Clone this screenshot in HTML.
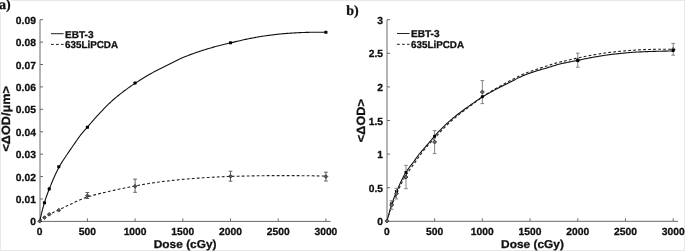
<!DOCTYPE html>
<html><head><meta charset="utf-8"><title>Dose response</title>
<style>
html,body{margin:0;padding:0;background:#fff;}
svg{display:block;}
text{stroke:#111;stroke-width:0.3px;text-rendering:geometricPrecision;}
.tk{font-family:'Liberation Sans', Arial, Helvetica, sans-serif;font-weight:bold;font-size:10.3px;fill:#111;}
.lab{font-family:'Liberation Sans', Arial, Helvetica, sans-serif;font-weight:bold;font-size:12px;fill:#111;}
.lg{font-family:'Liberation Sans', Arial, Helvetica, sans-serif;font-weight:bold;font-size:10.0px;fill:#111;}
.pl{font-family:'Liberation Serif', 'Times New Roman', serif;font-weight:bold;font-size:14px;fill:#111;}
</style></head><body>
<svg width="685" height="251" viewBox="0 0 685 251">
<rect x="0" y="0" width="685" height="251" fill="#fff"/>
<rect x="0.5" y="0.5" width="684" height="250" fill="none" stroke="#e8e8e8" stroke-width="1"/>

<rect x="0" y="0" width="11" height="12" fill="#fff"/>
<text x="-1.0" y="9.4" class="pl">a)</text>
<text x="346.2" y="14.9" class="pl">b)</text>
<path d="M40.00,19.70 L40.00,221.40 L330.60,221.40" fill="none" stroke="#6a6a6a" stroke-width="1"/>
<text x="35.90" y="225.45" text-anchor="end" class="tk">0</text>
<line x1="40.00" y1="198.99" x2="43.00" y2="198.99" stroke="#6a6a6a" stroke-width="1"/>
<text x="35.90" y="203.04" text-anchor="end" class="tk">0.01</text>
<line x1="40.00" y1="176.58" x2="43.00" y2="176.58" stroke="#6a6a6a" stroke-width="1"/>
<text x="35.90" y="180.63" text-anchor="end" class="tk">0.02</text>
<line x1="40.00" y1="154.17" x2="43.00" y2="154.17" stroke="#6a6a6a" stroke-width="1"/>
<text x="35.90" y="158.22" text-anchor="end" class="tk">0.03</text>
<line x1="40.00" y1="131.76" x2="43.00" y2="131.76" stroke="#6a6a6a" stroke-width="1"/>
<text x="35.90" y="135.81" text-anchor="end" class="tk">0.04</text>
<line x1="40.00" y1="109.34" x2="43.00" y2="109.34" stroke="#6a6a6a" stroke-width="1"/>
<text x="35.90" y="113.39" text-anchor="end" class="tk">0.05</text>
<line x1="40.00" y1="86.93" x2="43.00" y2="86.93" stroke="#6a6a6a" stroke-width="1"/>
<text x="35.90" y="90.98" text-anchor="end" class="tk">0.06</text>
<line x1="40.00" y1="64.52" x2="43.00" y2="64.52" stroke="#6a6a6a" stroke-width="1"/>
<text x="35.90" y="68.57" text-anchor="end" class="tk">0.07</text>
<line x1="40.00" y1="42.11" x2="43.00" y2="42.11" stroke="#6a6a6a" stroke-width="1"/>
<text x="35.90" y="46.16" text-anchor="end" class="tk">0.08</text>
<line x1="40.00" y1="19.70" x2="43.00" y2="19.70" stroke="#6a6a6a" stroke-width="1"/>
<text x="35.90" y="23.75" text-anchor="end" class="tk">0.09</text>
<text x="39.70" y="234.50" text-anchor="middle" class="tk">0</text>
<line x1="87.40" y1="221.40" x2="87.40" y2="218.40" stroke="#6a6a6a" stroke-width="1"/>
<text x="87.40" y="234.50" text-anchor="middle" class="tk">500</text>
<line x1="135.10" y1="221.40" x2="135.10" y2="218.40" stroke="#6a6a6a" stroke-width="1"/>
<text x="135.10" y="234.50" text-anchor="middle" class="tk">1000</text>
<line x1="182.80" y1="221.40" x2="182.80" y2="218.40" stroke="#6a6a6a" stroke-width="1"/>
<text x="182.80" y="234.50" text-anchor="middle" class="tk">1500</text>
<line x1="230.50" y1="221.40" x2="230.50" y2="218.40" stroke="#6a6a6a" stroke-width="1"/>
<text x="230.50" y="234.50" text-anchor="middle" class="tk">2000</text>
<line x1="278.20" y1="221.40" x2="278.20" y2="218.40" stroke="#6a6a6a" stroke-width="1"/>
<text x="278.20" y="234.50" text-anchor="middle" class="tk">2500</text>
<line x1="325.90" y1="221.40" x2="325.90" y2="218.40" stroke="#6a6a6a" stroke-width="1"/>
<text x="325.90" y="234.50" text-anchor="middle" class="tk">3000</text>
<text x="185.15" y="247.6" text-anchor="middle" class="lab" style="font-size:11.4px" textLength="62.8" lengthAdjust="spacingAndGlyphs">Dose (cGy)</text>
<text transform="translate(10.00,118.80) rotate(-90)" x="0" y="0" text-anchor="middle" class="lab" textLength="65.5" lengthAdjust="spacingAndGlyphs">&lt;&#916;OD/&#956;m&gt;</text>
<line x1="51.00" y1="33.70" x2="63.60" y2="33.70" stroke="#222" stroke-width="1"/>
<line x1="51.00" y1="44.40" x2="63.60" y2="44.40" stroke="#222" stroke-width="1" stroke-dasharray="2.8 2.2"/>
<text x="65.00" y="37.60" class="lg" textLength="28.6" lengthAdjust="spacingAndGlyphs">EBT-3</text>
<text x="65.00" y="47.85" class="lg" textLength="53.0" lengthAdjust="spacingAndGlyphs">635LiPCDA</text>
<path d="M39.70,221.40 L40.70,216.99 L41.70,212.81 L42.70,208.86 L43.70,205.19 L44.70,201.82 L45.70,198.70 L46.70,195.80 L47.70,193.05 L48.70,190.43 L49.70,187.89 L50.70,185.39 L51.70,182.95 L52.70,180.56 L53.70,178.23 L54.70,175.97 L55.70,173.79 L56.70,171.69 L57.70,169.67 L58.70,167.76 L59.70,165.94 L60.70,164.23 L61.70,162.60 L62.70,161.03 L63.70,159.52 L64.70,158.03 L65.70,156.55 L66.70,155.05 L67.70,153.55 L68.70,152.07 L69.70,150.61 L70.70,149.16 L71.70,147.71 L72.70,146.26 L73.70,144.81 L74.70,143.36 L75.70,141.93 L76.70,140.49 L77.70,139.05 L78.70,137.61 L79.70,136.23 L80.70,134.92 L81.70,133.67 L82.70,132.47 L83.70,131.31 L84.70,130.16 L85.70,129.03 L86.70,127.89 L87.70,126.74 L88.70,125.58 L89.70,124.42 L90.70,123.26 L91.70,122.11 L92.70,120.96 L93.70,119.82 L94.70,118.69 L95.70,117.58 L96.70,116.47 L97.70,115.38 L98.70,114.30 L99.70,113.22 L100.70,112.14 L101.70,111.07 L102.70,110.01 L103.70,108.96 L104.70,107.92 L105.70,106.89 L106.70,105.89 L107.70,104.90 L108.70,103.93 L109.70,102.99 L110.70,102.06 L111.70,101.16 L112.70,100.27 L113.70,99.39 L114.70,98.53 L115.70,97.68 L116.70,96.85 L117.70,96.02 L118.70,95.21 L119.70,94.41 L120.70,93.62 L121.70,92.84 L122.70,92.07 L123.70,91.31 L124.70,90.56 L125.70,89.82 L126.70,89.09 L127.70,88.37 L128.70,87.66 L129.70,86.96 L130.70,86.27 L131.70,85.58 L132.70,84.90 L133.70,84.23 L134.70,83.56 L135.70,82.90 L136.70,82.25 L137.70,81.60 L138.70,80.95 L139.70,80.31 L140.70,79.67 L141.70,79.04 L142.70,78.42 L143.70,77.80 L144.70,77.19 L145.70,76.59 L146.70,76.00 L147.70,75.41 L148.70,74.83 L149.70,74.27 L150.70,73.71 L151.70,73.17 L152.70,72.63 L153.70,72.10 L154.70,71.59 L155.70,71.07 L156.70,70.57 L157.70,70.07 L158.70,69.57 L159.70,69.07 L160.70,68.58 L161.70,68.09 L162.70,67.60 L163.70,67.10 L164.70,66.60 L165.70,66.10 L166.70,65.59 L167.70,65.08 L168.70,64.56 L169.70,64.04 L170.70,63.52 L171.70,63.00 L172.70,62.47 L173.70,61.95 L174.70,61.44 L175.70,60.93 L176.70,60.43 L177.70,59.94 L178.70,59.45 L179.70,58.98 L180.70,58.53 L181.70,58.09 L182.70,57.66 L183.70,57.24 L184.70,56.83 L185.70,56.42 L186.70,56.03 L187.70,55.64 L188.70,55.25 L189.70,54.88 L190.70,54.50 L191.70,54.14 L192.70,53.78 L193.70,53.42 L194.70,53.07 L195.70,52.72 L196.70,52.38 L197.70,52.03 L198.70,51.70 L199.70,51.36 L200.70,51.03 L201.70,50.71 L202.70,50.38 L203.70,50.07 L204.70,49.75 L205.70,49.44 L206.70,49.13 L207.70,48.83 L208.70,48.53 L209.70,48.24 L210.70,47.95 L211.70,47.66 L212.70,47.38 L213.70,47.10 L214.70,46.83 L215.70,46.56 L216.70,46.29 L217.70,46.03 L218.70,45.78 L219.70,45.52 L220.70,45.27 L221.70,45.03 L222.70,44.78 L223.70,44.54 L224.70,44.29 L225.70,44.05 L226.70,43.81 L227.70,43.57 L228.70,43.33 L229.70,43.09 L230.70,42.85 L231.70,42.61 L232.70,42.37 L233.70,42.12 L234.70,41.88 L235.70,41.64 L236.70,41.40 L237.70,41.16 L238.70,40.92 L239.70,40.69 L240.70,40.46 L241.70,40.23 L242.70,40.01 L243.70,39.79 L244.70,39.58 L245.70,39.37 L246.70,39.16 L247.70,38.95 L248.70,38.75 L249.70,38.55 L250.70,38.35 L251.70,38.15 L252.70,37.96 L253.70,37.77 L254.70,37.59 L255.70,37.40 L256.70,37.23 L257.70,37.05 L258.70,36.88 L259.70,36.72 L260.70,36.56 L261.70,36.39 L262.70,36.24 L263.70,36.08 L264.70,35.93 L265.70,35.78 L266.70,35.63 L267.70,35.49 L268.70,35.35 L269.70,35.21 L270.70,35.08 L271.70,34.95 L272.70,34.83 L273.70,34.71 L274.70,34.60 L275.70,34.48 L276.70,34.37 L277.70,34.27 L278.70,34.16 L279.70,34.06 L280.70,33.96 L281.70,33.86 L282.70,33.77 L283.70,33.67 L284.70,33.59 L285.70,33.50 L286.70,33.42 L287.70,33.35 L288.70,33.28 L289.70,33.21 L290.70,33.14 L291.70,33.08 L292.70,33.01 L293.70,32.95 L294.70,32.89 L295.70,32.83 L296.70,32.77 L297.70,32.72 L298.70,32.67 L299.70,32.62 L300.70,32.58 L301.70,32.54 L302.70,32.51 L303.70,32.48 L304.70,32.45 L305.70,32.42 L306.70,32.39 L307.70,32.36 L308.70,32.34 L309.70,32.31 L310.70,32.29 L311.70,32.26 L312.70,32.25 L313.70,32.23 L314.70,32.22 L315.70,32.21 L316.70,32.20 L317.70,32.20 L318.70,32.20 L319.70,32.21 L320.70,32.21 L321.70,32.22 L322.70,32.24 L323.70,32.25 L324.70,32.27 L325.70,32.29 L326.00,32.30" fill="none" stroke="#111" stroke-width="1.1"/>
<path d="M39.70,221.40 L40.70,220.51 L41.70,219.65 L42.70,218.84 L43.70,218.07 L44.70,217.34 L45.70,216.65 L46.70,216.00 L47.70,215.37 L48.70,214.78 L49.70,214.23 L50.70,213.70 L51.70,213.20 L52.70,212.71 L53.70,212.24 L54.70,211.79 L55.70,211.33 L56.70,210.88 L57.70,210.42 L58.70,209.96 L59.70,209.49 L60.70,209.01 L61.70,208.53 L62.70,208.05 L63.70,207.56 L64.70,207.07 L65.70,206.58 L66.70,206.09 L67.70,205.59 L68.70,205.10 L69.70,204.61 L70.70,204.13 L71.70,203.64 L72.70,203.16 L73.70,202.68 L74.70,202.21 L75.70,201.75 L76.70,201.29 L77.70,200.84 L78.70,200.40 L79.70,199.97 L80.70,199.55 L81.70,199.14 L82.70,198.74 L83.70,198.35 L84.70,197.97 L85.70,197.61 L86.70,197.27 L87.70,196.93 L88.70,196.62 L89.70,196.31 L90.70,196.01 L91.70,195.71 L92.70,195.43 L93.70,195.15 L94.70,194.88 L95.70,194.62 L96.70,194.36 L97.70,194.10 L98.70,193.85 L99.70,193.61 L100.70,193.36 L101.70,193.12 L102.70,192.89 L103.70,192.65 L104.70,192.42 L105.70,192.18 L106.70,191.95 L107.70,191.71 L108.70,191.48 L109.70,191.25 L110.70,191.02 L111.70,190.80 L112.70,190.57 L113.70,190.35 L114.70,190.13 L115.70,189.91 L116.70,189.70 L117.70,189.48 L118.70,189.27 L119.70,189.06 L120.70,188.85 L121.70,188.64 L122.70,188.43 L123.70,188.23 L124.70,188.03 L125.70,187.82 L126.70,187.62 L127.70,187.42 L128.70,187.22 L129.70,187.03 L130.70,186.83 L131.70,186.64 L132.70,186.44 L133.70,186.25 L134.70,186.06 L135.70,185.87 L136.70,185.67 L137.70,185.48 L138.70,185.29 L139.70,185.10 L140.70,184.92 L141.70,184.73 L142.70,184.55 L143.70,184.37 L144.70,184.19 L145.70,184.01 L146.70,183.84 L147.70,183.67 L148.70,183.51 L149.70,183.35 L150.70,183.20 L151.70,183.05 L152.70,182.90 L153.70,182.76 L154.70,182.62 L155.70,182.48 L156.70,182.34 L157.70,182.20 L158.70,182.07 L159.70,181.93 L160.70,181.80 L161.70,181.67 L162.70,181.55 L163.70,181.42 L164.70,181.30 L165.70,181.18 L166.70,181.06 L167.70,180.94 L168.70,180.83 L169.70,180.72 L170.70,180.61 L171.70,180.50 L172.70,180.39 L173.70,180.28 L174.70,180.18 L175.70,180.08 L176.70,179.97 L177.70,179.87 L178.70,179.77 L179.70,179.68 L180.70,179.58 L181.70,179.49 L182.70,179.39 L183.70,179.30 L184.70,179.21 L185.70,179.12 L186.70,179.03 L187.70,178.95 L188.70,178.86 L189.70,178.78 L190.70,178.70 L191.70,178.62 L192.70,178.54 L193.70,178.46 L194.70,178.38 L195.70,178.31 L196.70,178.24 L197.70,178.16 L198.70,178.09 L199.70,178.02 L200.70,177.95 L201.70,177.88 L202.70,177.81 L203.70,177.75 L204.70,177.68 L205.70,177.62 L206.70,177.55 L207.70,177.49 L208.70,177.43 L209.70,177.37 L210.70,177.31 L211.70,177.25 L212.70,177.20 L213.70,177.14 L214.70,177.09 L215.70,177.04 L216.70,176.98 L217.70,176.93 L218.70,176.88 L219.70,176.83 L220.70,176.79 L221.70,176.74 L222.70,176.69 L223.70,176.65 L224.70,176.60 L225.70,176.56 L226.70,176.52 L227.70,176.49 L228.70,176.45 L229.70,176.42 L230.70,176.39 L231.70,176.37 L232.70,176.34 L233.70,176.32 L234.70,176.29 L235.70,176.27 L236.70,176.24 L237.70,176.22 L238.70,176.19 L239.70,176.17 L240.70,176.15 L241.70,176.12 L242.70,176.10 L243.70,176.08 L244.70,176.05 L245.70,176.03 L246.70,176.01 L247.70,175.99 L248.70,175.97 L249.70,175.95 L250.70,175.93 L251.70,175.91 L252.70,175.89 L253.70,175.87 L254.70,175.85 L255.70,175.83 L256.70,175.81 L257.70,175.80 L258.70,175.78 L259.70,175.76 L260.70,175.75 L261.70,175.73 L262.70,175.72 L263.70,175.71 L264.70,175.70 L265.70,175.68 L266.70,175.67 L267.70,175.66 L268.70,175.65 L269.70,175.64 L270.70,175.64 L271.70,175.63 L272.70,175.62 L273.70,175.62 L274.70,175.61 L275.70,175.61 L276.70,175.60 L277.70,175.60 L278.70,175.60 L279.70,175.60 L280.70,175.60 L281.70,175.60 L282.70,175.60 L283.70,175.60 L284.70,175.61 L285.70,175.61 L286.70,175.61 L287.70,175.62 L288.70,175.62 L289.70,175.62 L290.70,175.63 L291.70,175.63 L292.70,175.64 L293.70,175.64 L294.70,175.65 L295.70,175.65 L296.70,175.66 L297.70,175.67 L298.70,175.67 L299.70,175.68 L300.70,175.68 L301.70,175.69 L302.70,175.70 L303.70,175.71 L304.70,175.71 L305.70,175.72 L306.70,175.73 L307.70,175.75 L308.70,175.76 L309.70,175.77 L310.70,175.79 L311.70,175.80 L312.70,175.82 L313.70,175.84 L314.70,175.85 L315.70,175.87 L316.70,175.89 L317.70,175.91 L318.70,175.93 L319.70,175.96 L320.70,175.98 L321.70,176.00 L322.70,176.02 L323.70,176.05 L324.70,176.07 L325.70,176.09 L326.00,176.10" fill="none" stroke="#222" stroke-width="1.1" stroke-dasharray="2.8 2.2"/>
<path d="M87.40,192.50 L87.40,198.50 M85.55,192.50 L89.25,192.50 M85.55,198.50 L89.25,198.50" fill="none" stroke="#626262" stroke-width="1"/>
<path d="M135.10,179.10 L135.10,192.30 M133.25,179.10 L136.95,179.10 M133.25,192.30 L136.95,192.30" fill="none" stroke="#626262" stroke-width="1"/>
<path d="M230.50,171.20 L230.50,181.20 M228.65,171.20 L232.35,171.20 M228.65,181.20 L232.35,181.20" fill="none" stroke="#626262" stroke-width="1"/>
<path d="M325.90,172.20 L325.90,181.00 M324.05,172.20 L327.75,172.20 M324.05,181.00 L327.75,181.00" fill="none" stroke="#626262" stroke-width="1"/>
<path d="M39.70,219.30 L41.60,221.20 L39.70,223.10 L37.80,221.20 Z" fill="#555" stroke="#333" stroke-width="0.8"/>
<path d="M44.47,215.70 L46.37,217.60 L44.47,219.50 L42.57,217.60 Z" fill="#555" stroke="#333" stroke-width="0.8"/>
<path d="M49.24,212.40 L51.14,214.30 L49.24,216.20 L47.34,214.30 Z" fill="#555" stroke="#333" stroke-width="0.8"/>
<path d="M58.78,208.30 L60.68,210.20 L58.78,212.10 L56.88,210.20 Z" fill="#555" stroke="#333" stroke-width="0.8"/>
<path d="M87.40,193.90 L89.30,195.80 L87.40,197.70 L85.50,195.80 Z" fill="#555" stroke="#333" stroke-width="0.8"/>
<path d="M135.10,184.40 L137.00,186.30 L135.10,188.20 L133.20,186.30 Z" fill="#555" stroke="#333" stroke-width="0.8"/>
<path d="M230.50,174.35 L232.40,176.25 L230.50,178.15 L228.60,176.25 Z" fill="#555" stroke="#333" stroke-width="0.8"/>
<path d="M325.90,174.70 L327.80,176.60 L325.90,178.50 L324.00,176.60 Z" fill="#555" stroke="#333" stroke-width="0.8"/>
<rect x="42.92" y="201.25" width="3.1" height="3.1" rx="0.7" fill="#000"/>
<rect x="47.69" y="187.35" width="3.1" height="3.1" rx="0.7" fill="#000"/>
<rect x="57.23" y="165.15" width="3.1" height="3.1" rx="0.7" fill="#000"/>
<rect x="85.85" y="125.75" width="3.1" height="3.1" rx="0.7" fill="#000"/>
<rect x="133.55" y="81.45" width="3.1" height="3.1" rx="0.7" fill="#000"/>
<rect x="228.95" y="41.25" width="3.1" height="3.1" rx="0.7" fill="#000"/>
<rect x="324.35" y="30.75" width="3.1" height="3.1" rx="0.7" fill="#000"/>
<path d="M387.00,19.70 L387.00,221.30 L678.00,221.30" fill="none" stroke="#6a6a6a" stroke-width="1"/>
<text x="383.10" y="225.35" text-anchor="end" class="tk">0</text>
<line x1="387.00" y1="187.70" x2="390.00" y2="187.70" stroke="#6a6a6a" stroke-width="1"/>
<text x="383.10" y="191.75" text-anchor="end" class="tk">0.5</text>
<line x1="387.00" y1="154.10" x2="390.00" y2="154.10" stroke="#6a6a6a" stroke-width="1"/>
<text x="383.10" y="158.15" text-anchor="end" class="tk">1</text>
<line x1="387.00" y1="120.50" x2="390.00" y2="120.50" stroke="#6a6a6a" stroke-width="1"/>
<text x="383.10" y="124.55" text-anchor="end" class="tk">1.5</text>
<line x1="387.00" y1="86.90" x2="390.00" y2="86.90" stroke="#6a6a6a" stroke-width="1"/>
<text x="383.10" y="90.95" text-anchor="end" class="tk">2</text>
<line x1="387.00" y1="53.30" x2="390.00" y2="53.30" stroke="#6a6a6a" stroke-width="1"/>
<text x="383.10" y="57.35" text-anchor="end" class="tk">2.5</text>
<line x1="387.00" y1="19.70" x2="390.00" y2="19.70" stroke="#6a6a6a" stroke-width="1"/>
<text x="383.10" y="23.75" text-anchor="end" class="tk">3</text>
<text x="386.90" y="234.50" text-anchor="middle" class="tk">0</text>
<line x1="434.62" y1="221.30" x2="434.62" y2="218.30" stroke="#6a6a6a" stroke-width="1"/>
<text x="434.62" y="234.50" text-anchor="middle" class="tk">500</text>
<line x1="482.33" y1="221.30" x2="482.33" y2="218.30" stroke="#6a6a6a" stroke-width="1"/>
<text x="482.33" y="234.50" text-anchor="middle" class="tk">1000</text>
<line x1="530.05" y1="221.30" x2="530.05" y2="218.30" stroke="#6a6a6a" stroke-width="1"/>
<text x="530.05" y="234.50" text-anchor="middle" class="tk">1500</text>
<line x1="577.77" y1="221.30" x2="577.77" y2="218.30" stroke="#6a6a6a" stroke-width="1"/>
<text x="577.77" y="234.50" text-anchor="middle" class="tk">2000</text>
<line x1="625.48" y1="221.30" x2="625.48" y2="218.30" stroke="#6a6a6a" stroke-width="1"/>
<text x="625.48" y="234.50" text-anchor="middle" class="tk">2500</text>
<line x1="673.20" y1="221.30" x2="673.20" y2="218.30" stroke="#6a6a6a" stroke-width="1"/>
<text x="673.20" y="234.50" text-anchor="middle" class="tk">3000</text>
<text x="532.45" y="247.6" text-anchor="middle" class="lab" style="font-size:11.4px" textLength="62.8" lengthAdjust="spacingAndGlyphs">Dose (cGy)</text>
<text transform="translate(365.00,120.65) rotate(-90)" x="0" y="0" text-anchor="middle" class="lab" textLength="43.0" lengthAdjust="spacingAndGlyphs">&lt;&#916;OD&gt;</text>
<line x1="397.00" y1="33.50" x2="409.60" y2="33.50" stroke="#222" stroke-width="1"/>
<line x1="397.00" y1="44.30" x2="409.60" y2="44.30" stroke="#222" stroke-width="1" stroke-dasharray="2.8 2.2"/>
<text x="411.00" y="37.40" class="lg" textLength="28.6" lengthAdjust="spacingAndGlyphs">EBT-3</text>
<text x="411.00" y="47.75" class="lg" textLength="53.0" lengthAdjust="spacingAndGlyphs">635LiPCDA</text>
<path d="M386.90,221.30 L387.90,217.60 L388.90,213.99 L389.90,210.45 L390.90,206.95 L391.90,203.70 L392.90,200.82 L393.90,198.14 L394.90,195.60 L395.90,193.18 L396.90,190.83 L397.90,188.51 L398.90,186.22 L399.90,183.99 L400.90,181.82 L401.90,179.72 L402.90,177.71 L403.90,175.79 L404.90,173.98 L405.90,172.30 L406.90,170.75 L407.90,169.32 L408.90,167.99 L409.90,166.70 L410.90,165.45 L411.90,164.18 L412.90,162.88 L413.90,161.51 L414.90,160.08 L415.90,158.64 L416.90,157.21 L417.90,155.82 L418.90,154.50 L419.90,153.26 L420.90,152.07 L421.90,150.92 L422.90,149.80 L423.90,148.68 L424.90,147.55 L425.90,146.40 L426.90,145.23 L427.90,144.05 L428.90,142.86 L429.90,141.67 L430.90,140.48 L431.90,139.30 L432.90,138.13 L433.90,136.97 L434.90,135.83 L435.90,134.69 L436.90,133.55 L437.90,132.44 L438.90,131.35 L439.90,130.30 L440.90,129.29 L441.90,128.29 L442.90,127.31 L443.90,126.34 L444.90,125.38 L445.90,124.44 L446.90,123.51 L447.90,122.59 L448.90,121.69 L449.90,120.80 L450.90,119.93 L451.90,119.07 L452.90,118.22 L453.90,117.38 L454.90,116.56 L455.90,115.76 L456.90,114.98 L457.90,114.21 L458.90,113.46 L459.90,112.71 L460.90,111.97 L461.90,111.24 L462.90,110.51 L463.90,109.77 L464.90,109.04 L465.90,108.32 L466.90,107.60 L467.90,106.88 L468.90,106.17 L469.90,105.46 L470.90,104.76 L471.90,104.05 L472.90,103.36 L473.90,102.66 L474.90,101.96 L475.90,101.27 L476.90,100.57 L477.90,99.87 L478.90,99.16 L479.90,98.47 L480.90,97.80 L481.90,97.15 L482.90,96.54 L483.90,95.96 L484.90,95.40 L485.90,94.85 L486.90,94.31 L487.90,93.76 L488.90,93.19 L489.90,92.63 L490.90,92.06 L491.90,91.50 L492.90,90.94 L493.90,90.39 L494.90,89.85 L495.90,89.32 L496.90,88.80 L497.90,88.28 L498.90,87.78 L499.90,87.27 L500.90,86.77 L501.90,86.26 L502.90,85.75 L503.90,85.24 L504.90,84.73 L505.90,84.21 L506.90,83.69 L507.90,83.18 L508.90,82.67 L509.90,82.16 L510.90,81.65 L511.90,81.15 L512.90,80.65 L513.90,80.14 L514.90,79.64 L515.90,79.13 L516.90,78.62 L517.90,78.12 L518.90,77.63 L519.90,77.15 L520.90,76.68 L521.90,76.23 L522.90,75.79 L523.90,75.38 L524.90,74.98 L525.90,74.59 L526.90,74.21 L527.90,73.84 L528.90,73.48 L529.90,73.13 L530.90,72.78 L531.90,72.44 L532.90,72.11 L533.90,71.78 L534.90,71.45 L535.90,71.13 L536.90,70.82 L537.90,70.51 L538.90,70.21 L539.90,69.92 L540.90,69.63 L541.90,69.34 L542.90,69.06 L543.90,68.78 L544.90,68.49 L545.90,68.21 L546.90,67.92 L547.90,67.63 L548.90,67.33 L549.90,67.02 L550.90,66.71 L551.90,66.39 L552.90,66.07 L553.90,65.76 L554.90,65.44 L555.90,65.14 L556.90,64.84 L557.90,64.55 L558.90,64.28 L559.90,64.02 L560.90,63.78 L561.90,63.55 L562.90,63.33 L563.90,63.11 L564.90,62.90 L565.90,62.70 L566.90,62.50 L567.90,62.30 L568.90,62.11 L569.90,61.91 L570.90,61.72 L571.90,61.52 L572.90,61.32 L573.90,61.13 L574.90,60.95 L575.90,60.76 L576.90,60.56 L577.90,60.36 L578.90,60.14 L579.90,59.92 L580.90,59.69 L581.90,59.46 L582.90,59.23 L583.90,59.02 L584.90,58.82 L585.90,58.62 L586.90,58.42 L587.90,58.22 L588.90,58.03 L589.90,57.84 L590.90,57.66 L591.90,57.47 L592.90,57.29 L593.90,57.12 L594.90,56.94 L595.90,56.77 L596.90,56.60 L597.90,56.43 L598.90,56.27 L599.90,56.10 L600.90,55.94 L601.90,55.78 L602.90,55.63 L603.90,55.47 L604.90,55.32 L605.90,55.18 L606.90,55.03 L607.90,54.90 L608.90,54.76 L609.90,54.63 L610.90,54.51 L611.90,54.39 L612.90,54.27 L613.90,54.16 L614.90,54.04 L615.90,53.93 L616.90,53.83 L617.90,53.72 L618.90,53.61 L619.90,53.51 L620.90,53.41 L621.90,53.31 L622.90,53.21 L623.90,53.10 L624.90,53.00 L625.90,52.90 L626.90,52.81 L627.90,52.71 L628.90,52.62 L629.90,52.53 L630.90,52.45 L631.90,52.38 L632.90,52.31 L633.90,52.24 L634.90,52.18 L635.90,52.13 L636.90,52.07 L637.90,52.02 L638.90,51.97 L639.90,51.92 L640.90,51.87 L641.90,51.83 L642.90,51.79 L643.90,51.74 L644.90,51.70 L645.90,51.66 L646.90,51.63 L647.90,51.59 L648.90,51.55 L649.90,51.51 L650.90,51.48 L651.90,51.45 L652.90,51.41 L653.90,51.38 L654.90,51.35 L655.90,51.33 L656.90,51.30 L657.90,51.28 L658.90,51.25 L659.90,51.23 L660.90,51.21 L661.90,51.19 L662.90,51.17 L663.90,51.15 L664.90,51.13 L665.90,51.11 L666.90,51.09 L667.90,51.07 L668.90,51.06 L669.90,51.04 L670.90,51.03 L671.90,51.01 L672.90,51.00 L673.20,51.00" fill="none" stroke="#111" stroke-width="1.1"/>
<path d="M386.90,221.30 L387.90,217.72 L388.90,214.31 L389.90,211.07 L390.90,208.01 L391.90,205.17 L392.90,202.51 L393.90,200.00 L394.90,197.61 L395.90,195.32 L396.90,193.09 L397.90,190.90 L398.90,188.74 L399.90,186.62 L400.90,184.56 L401.90,182.56 L402.90,180.63 L403.90,178.77 L404.90,176.99 L405.90,175.30 L406.90,173.71 L407.90,172.23 L408.90,170.81 L409.90,169.45 L410.90,168.10 L411.90,166.76 L412.90,165.40 L413.90,163.99 L414.90,162.56 L415.90,161.11 L416.90,159.66 L417.90,158.22 L418.90,156.80 L419.90,155.41 L420.90,154.05 L421.90,152.74 L422.90,151.47 L423.90,150.22 L424.90,148.99 L425.90,147.79 L426.90,146.61 L427.90,145.46 L428.90,144.33 L429.90,143.22 L430.90,142.15 L431.90,141.14 L432.90,140.15 L433.90,139.13 L434.90,138.05 L435.90,136.91 L436.90,135.74 L437.90,134.57 L438.90,133.41 L439.90,132.31 L440.90,131.25 L441.90,130.20 L442.90,129.17 L443.90,128.14 L444.90,127.13 L445.90,126.14 L446.90,125.15 L447.90,124.19 L448.90,123.23 L449.90,122.29 L450.90,121.37 L451.90,120.46 L452.90,119.56 L453.90,118.69 L454.90,117.83 L455.90,117.00 L456.90,116.18 L457.90,115.39 L458.90,114.60 L459.90,113.83 L460.90,113.06 L461.90,112.30 L462.90,111.54 L463.90,110.78 L464.90,110.02 L465.90,109.26 L466.90,108.52 L467.90,107.78 L468.90,107.05 L469.90,106.32 L470.90,105.59 L471.90,104.85 L472.90,104.12 L473.90,103.38 L474.90,102.63 L475.90,101.88 L476.90,101.10 L477.90,100.31 L478.90,99.50 L479.90,98.71 L480.90,97.93 L481.90,97.18 L482.90,96.48 L483.90,95.80 L484.90,95.14 L485.90,94.49 L486.90,93.85 L487.90,93.22 L488.90,92.61 L489.90,92.00 L490.90,91.40 L491.90,90.81 L492.90,90.22 L493.90,89.63 L494.90,89.04 L495.90,88.46 L496.90,87.89 L497.90,87.32 L498.90,86.76 L499.90,86.21 L500.90,85.66 L501.90,85.11 L502.90,84.56 L503.90,84.02 L504.90,83.47 L505.90,82.93 L506.90,82.39 L507.90,81.85 L508.90,81.32 L509.90,80.79 L510.90,80.27 L511.90,79.75 L512.90,79.24 L513.90,78.72 L514.90,78.20 L515.90,77.68 L516.90,77.17 L517.90,76.66 L518.90,76.16 L519.90,75.68 L520.90,75.20 L521.90,74.74 L522.90,74.30 L523.90,73.88 L524.90,73.47 L525.90,73.07 L526.90,72.69 L527.90,72.32 L528.90,71.95 L529.90,71.60 L530.90,71.25 L531.90,70.90 L532.90,70.56 L533.90,70.22 L534.90,69.88 L535.90,69.53 L536.90,69.19 L537.90,68.86 L538.90,68.53 L539.90,68.20 L540.90,67.87 L541.90,67.55 L542.90,67.23 L543.90,66.91 L544.90,66.59 L545.90,66.27 L546.90,65.95 L547.90,65.62 L548.90,65.29 L549.90,64.96 L550.90,64.64 L551.90,64.32 L552.90,64.00 L553.90,63.69 L554.90,63.39 L555.90,63.10 L556.90,62.83 L557.90,62.56 L558.90,62.31 L559.90,62.07 L560.90,61.84 L561.90,61.61 L562.90,61.38 L563.90,61.15 L564.90,60.92 L565.90,60.69 L566.90,60.46 L567.90,60.23 L568.90,60.00 L569.90,59.78 L570.90,59.55 L571.90,59.32 L572.90,59.10 L573.90,58.87 L574.90,58.64 L575.90,58.41 L576.90,58.18 L577.90,57.96 L578.90,57.74 L579.90,57.52 L580.90,57.31 L581.90,57.10 L582.90,56.89 L583.90,56.68 L584.90,56.48 L585.90,56.28 L586.90,56.08 L587.90,55.89 L588.90,55.70 L589.90,55.52 L590.90,55.34 L591.90,55.16 L592.90,54.98 L593.90,54.81 L594.90,54.63 L595.90,54.46 L596.90,54.30 L597.90,54.13 L598.90,53.97 L599.90,53.81 L600.90,53.66 L601.90,53.50 L602.90,53.36 L603.90,53.21 L604.90,53.07 L605.90,52.94 L606.90,52.80 L607.90,52.67 L608.90,52.54 L609.90,52.42 L610.90,52.29 L611.90,52.17 L612.90,52.05 L613.90,51.94 L614.90,51.83 L615.90,51.72 L616.90,51.61 L617.90,51.51 L618.90,51.41 L619.90,51.31 L620.90,51.22 L621.90,51.12 L622.90,51.03 L623.90,50.94 L624.90,50.85 L625.90,50.76 L626.90,50.68 L627.90,50.60 L628.90,50.52 L629.90,50.45 L630.90,50.37 L631.90,50.31 L632.90,50.24 L633.90,50.18 L634.90,50.11 L635.90,50.05 L636.90,49.99 L637.90,49.93 L638.90,49.88 L639.90,49.82 L640.90,49.77 L641.90,49.72 L642.90,49.68 L643.90,49.64 L644.90,49.60 L645.90,49.57 L646.90,49.53 L647.90,49.50 L648.90,49.47 L649.90,49.43 L650.90,49.40 L651.90,49.37 L652.90,49.35 L653.90,49.33 L654.90,49.31 L655.90,49.30 L656.90,49.30 L657.90,49.30 L658.90,49.30 L659.90,49.30 L660.90,49.30 L661.90,49.30 L662.90,49.30 L663.90,49.30 L664.90,49.30 L665.90,49.30 L666.90,49.30 L667.90,49.30 L668.90,49.30 L669.90,49.30 L670.90,49.30 L671.90,49.30 L672.90,49.30 L673.20,49.30" fill="none" stroke="#222" stroke-width="1.1" stroke-dasharray="2.8 2.2"/>
<rect x="390.17" y="202.10" width="3.0" height="3.0" rx="0.7" fill="#000"/>
<rect x="394.94" y="189.90" width="3.0" height="3.0" rx="0.7" fill="#000"/>
<path d="M391.67,200.70 L391.67,209.30 M389.82,200.70 L393.52,200.70 M389.82,209.30 L393.52,209.30" fill="none" stroke="#858585" stroke-width="1"/>
<path d="M396.44,188.30 L396.44,198.90 M394.59,188.30 L398.29,188.30 M394.59,198.90 L398.29,198.90" fill="none" stroke="#858585" stroke-width="1"/>
<path d="M405.99,165.30 L405.99,188.70 M404.14,165.30 L407.84,165.30 M404.14,188.70 L407.84,188.70" fill="none" stroke="#858585" stroke-width="1"/>
<path d="M434.62,130.60 L434.62,153.60 M432.77,130.60 L436.47,130.60 M432.77,153.60 L436.47,153.60" fill="none" stroke="#858585" stroke-width="1"/>
<path d="M482.33,80.60 L482.33,103.60 M480.48,80.60 L484.18,80.60 M480.48,103.60 L484.18,103.60" fill="none" stroke="#858585" stroke-width="1"/>
<path d="M577.77,53.20 L577.77,67.20 M575.92,53.20 L579.62,53.20 M575.92,67.20 L579.62,67.20" fill="none" stroke="#858585" stroke-width="1"/>
<path d="M673.20,43.40 L673.20,55.20 M671.35,43.40 L675.05,43.40 M671.35,55.20 L675.05,55.20" fill="none" stroke="#858585" stroke-width="1"/>
<path d="M386.90,219.00 L388.90,221.00 L386.90,223.00 L384.90,221.00 Z" fill="#6a6a6a" stroke="#2a2a2a" stroke-width="0.8"/>
<path d="M391.67,203.00 L393.67,205.00 L391.67,207.00 L389.67,205.00 Z" fill="#6a6a6a" stroke="#2a2a2a" stroke-width="0.8"/>
<path d="M396.44,191.60 L398.44,193.60 L396.44,195.60 L394.44,193.60 Z" fill="#6a6a6a" stroke="#2a2a2a" stroke-width="0.8"/>
<path d="M405.99,175.00 L407.99,177.00 L405.99,179.00 L403.99,177.00 Z" fill="#6a6a6a" stroke="#2a2a2a" stroke-width="0.8"/>
<path d="M434.62,140.00 L436.62,142.00 L434.62,144.00 L432.62,142.00 Z" fill="#6a6a6a" stroke="#2a2a2a" stroke-width="0.8"/>
<path d="M482.33,90.00 L484.33,92.00 L482.33,94.00 L480.33,92.00 Z" fill="#6a6a6a" stroke="#2a2a2a" stroke-width="0.8"/>
<path d="M577.77,58.20 L579.77,60.20 L577.77,62.20 L575.77,60.20 Z" fill="#6a6a6a" stroke="#2a2a2a" stroke-width="0.8"/>
<path d="M673.20,47.50 L675.20,49.50 L673.20,51.50 L671.20,49.50 Z" fill="#6a6a6a" stroke="#2a2a2a" stroke-width="0.8"/>
<rect x="404.49" y="170.90" width="3.0" height="3.0" rx="0.7" fill="#000"/>
<rect x="433.12" y="134.70" width="3.0" height="3.0" rx="0.7" fill="#000"/>
<rect x="480.83" y="95.20" width="3.0" height="3.0" rx="0.7" fill="#000"/>
<rect x="576.27" y="59.10" width="3.0" height="3.0" rx="0.7" fill="#000"/>
<rect x="671.70" y="48.90" width="3.0" height="3.0" rx="0.7" fill="#000"/>
</svg>
</body></html>
